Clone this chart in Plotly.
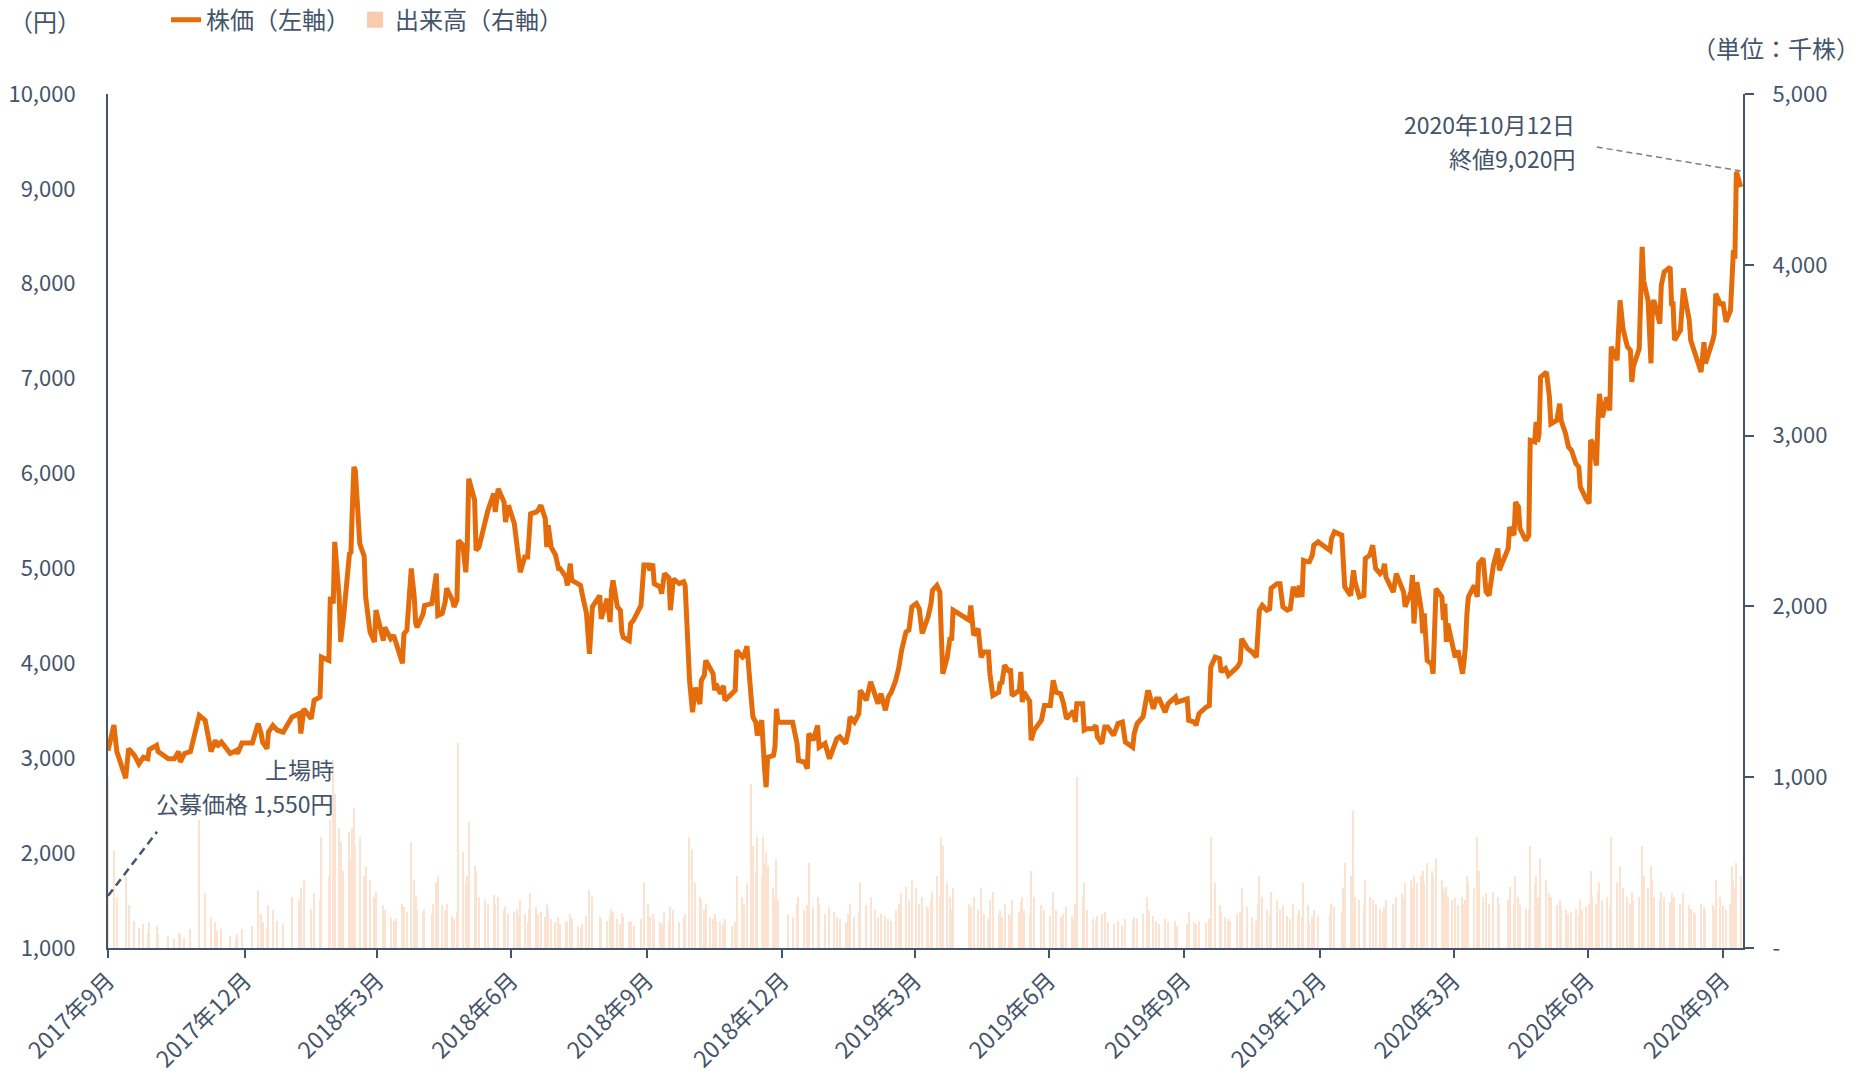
import plotly.graph_objects as go

# ---- 株価・出来高データ（上場日 2017-09-29 〜 2020-10-12） ----
dates = [
    "2017-09-29", "2017-10-03", "2017-10-05", "2017-10-11", "2017-10-13", "2017-10-17", "2017-10-20", "2017-10-23", "2017-10-26", "2017-10-27",
    "2017-11-01", "2017-11-02", "2017-11-09", "2017-11-13", "2017-11-16", "2017-11-17", "2017-11-20", "2017-11-24", "2017-11-30",
    "2017-12-04", "2017-12-08", "2017-12-11", "2017-12-12", "2017-12-15", "2017-12-21", "2017-12-25", "2017-12-26", "2017-12-29",
    "2018-01-05", "2018-01-09", "2018-01-11", "2018-01-12", "2018-01-15", "2018-01-16", "2018-01-19", "2018-01-22", "2018-01-26",
    "2018-02-01", "2018-02-06", "2018-02-07", "2018-02-09", "2018-02-14", "2018-02-16", "2018-02-20", "2018-02-21", "2018-02-26", "2018-02-27",
    "2018-03-01", "2018-03-02", "2018-03-05", "2018-03-06", "2018-03-08", "2018-03-12", "2018-03-13", "2018-03-14", "2018-03-15", "2018-03-16", "2018-03-19", "2018-03-22", "2018-03-23", "2018-03-26", "2018-03-29", "2018-03-30",
    "2018-04-04", "2018-04-05", "2018-04-09", "2018-04-11", "2018-04-13", "2018-04-17", "2018-04-18", "2018-04-20", "2018-04-23", "2018-04-25", "2018-04-26", "2018-04-27",
    "2018-05-01", "2018-05-02", "2018-05-07", "2018-05-08", "2018-05-10", "2018-05-11", "2018-05-14", "2018-05-16", "2018-05-17", "2018-05-21", "2018-05-22", "2018-05-24", "2018-05-25", "2018-05-28", "2018-05-30", "2018-05-31",
    "2018-06-01", "2018-06-05", "2018-06-06", "2018-06-08", "2018-06-12", "2018-06-14", "2018-06-18", "2018-06-19", "2018-06-21", "2018-06-25", "2018-06-26", "2018-06-28",
    "2018-07-02", "2018-07-04", "2018-07-05", "2018-07-06", "2018-07-09", "2018-07-11", "2018-07-12", "2018-07-13", "2018-07-17", "2018-07-18", "2018-07-20", "2018-07-23", "2018-07-24", "2018-07-25", "2018-07-27", "2018-07-30",
    "2018-08-01", "2018-08-02", "2018-08-06", "2018-08-07", "2018-08-09", "2018-08-10", "2018-08-14", "2018-08-16", "2018-08-17", "2018-08-20", "2018-08-22", "2018-08-24", "2018-08-29", "2018-08-30",
    "2018-09-03", "2018-09-05", "2018-09-06", "2018-09-07", "2018-09-10", "2018-09-12", "2018-09-13", "2018-09-14", "2018-09-18", "2018-09-19", "2018-09-21", "2018-09-26", "2018-09-28",
    "2018-10-01", "2018-10-02", "2018-10-04", "2018-10-05", "2018-10-09", "2018-10-10", "2018-10-12", "2018-10-15", "2018-10-16", "2018-10-18", "2018-10-22", "2018-10-25", "2018-10-26", "2018-10-29", "2018-10-31",
    "2018-11-02", "2018-11-05", "2018-11-06", "2018-11-08", "2018-11-09", "2018-11-12", "2018-11-14", "2018-11-15", "2018-11-16", "2018-11-19", "2018-11-21", "2018-11-22", "2018-11-27", "2018-11-29", "2018-11-30",
    "2018-12-04", "2018-12-05", "2018-12-07", "2018-12-10", "2018-12-11", "2018-12-13", "2018-12-14", "2018-12-17", "2018-12-18", "2018-12-19", "2018-12-20", "2018-12-21", "2018-12-25", "2018-12-26", "2018-12-27", "2018-12-28",
    "2019-01-04", "2019-01-07", "2019-01-10", "2019-01-11", "2019-01-15", "2019-01-17", "2019-01-18", "2019-01-21", "2019-01-24", "2019-01-25", "2019-01-29",
    "2019-02-01", "2019-02-04", "2019-02-06", "2019-02-08", "2019-02-12", "2019-02-14", "2019-02-15", "2019-02-18", "2019-02-21", "2019-02-22", "2019-02-26",
    "2019-03-01", "2019-03-04", "2019-03-06", "2019-03-08", "2019-03-11", "2019-03-13", "2019-03-15", "2019-03-18", "2019-03-20", "2019-03-22", "2019-03-25", "2019-03-27", "2019-03-29",
    "2019-04-01", "2019-04-03", "2019-04-05", "2019-04-08", "2019-04-09", "2019-04-11", "2019-04-12", "2019-04-15", "2019-04-17", "2019-04-18", "2019-04-19", "2019-04-22", "2019-04-24", "2019-04-25", "2019-04-26",
    "2019-05-07", "2019-05-08", "2019-05-10", "2019-05-13", "2019-05-15", "2019-05-17", "2019-05-20", "2019-05-21", "2019-05-23", "2019-05-27", "2019-05-28", "2019-05-29", "2019-05-31",
    "2019-06-03", "2019-06-04", "2019-06-05", "2019-06-10", "2019-06-11", "2019-06-12", "2019-06-13", "2019-06-17", "2019-06-18", "2019-06-20", "2019-06-25", "2019-06-27",
    "2019-07-01", "2019-07-03", "2019-07-05", "2019-07-08", "2019-07-10", "2019-07-12", "2019-07-16", "2019-07-17", "2019-07-18", "2019-07-19", "2019-07-23", "2019-07-24", "2019-07-26", "2019-07-30",
    "2019-08-01", "2019-08-02", "2019-08-05", "2019-08-07", "2019-08-09", "2019-08-13", "2019-08-16", "2019-08-19", "2019-08-21", "2019-08-26", "2019-08-27", "2019-08-29",
    "2019-09-02", "2019-09-05", "2019-09-06", "2019-09-09", "2019-09-11", "2019-09-13", "2019-09-17", "2019-09-19", "2019-09-24", "2019-09-25",
    "2019-10-02", "2019-10-03", "2019-10-07", "2019-10-08", "2019-10-10", "2019-10-15", "2019-10-17", "2019-10-18", "2019-10-21", "2019-10-24", "2019-10-25", "2019-10-28", "2019-10-30", "2019-10-31",
    "2019-11-05", "2019-11-07", "2019-11-08", "2019-11-12", "2019-11-15", "2019-11-18", "2019-11-19", "2019-11-20", "2019-11-22", "2019-11-25", "2019-11-27", "2019-11-28",
    "2019-12-02", "2019-12-04", "2019-12-06", "2019-12-09", "2019-12-11", "2019-12-13", "2019-12-16", "2019-12-17", "2019-12-19", "2019-12-20", "2019-12-23", "2019-12-24", "2019-12-26", "2019-12-27", "2019-12-30",
    "2020-01-07", "2020-01-08", "2020-01-10", "2020-01-15", "2020-01-16", "2020-01-17", "2020-01-21", "2020-01-23", "2020-01-24", "2020-01-27", "2020-01-30", "2020-01-31",
    "2020-02-03", "2020-02-05", "2020-02-07", "2020-02-10", "2020-02-12", "2020-02-13", "2020-02-14", "2020-02-19", "2020-02-21", "2020-02-25", "2020-02-26", "2020-02-27",
    "2020-03-02", "2020-03-03", "2020-03-04", "2020-03-06", "2020-03-09", "2020-03-10", "2020-03-11", "2020-03-13", "2020-03-16", "2020-03-17", "2020-03-19", "2020-03-23", "2020-03-24", "2020-03-25", "2020-03-26", "2020-03-27", "2020-03-30",
    "2020-04-01", "2020-04-03", "2020-04-06", "2020-04-07", "2020-04-08", "2020-04-09", "2020-04-10", "2020-04-14", "2020-04-16", "2020-04-17", "2020-04-20", "2020-04-22", "2020-04-24", "2020-04-27", "2020-04-30",
    "2020-05-01", "2020-05-07", "2020-05-08", "2020-05-11", "2020-05-12", "2020-05-14", "2020-05-15", "2020-05-19", "2020-05-21", "2020-05-22", "2020-05-25", "2020-05-26", "2020-05-27", "2020-05-28", "2020-05-29",
    "2020-06-02", "2020-06-04", "2020-06-05", "2020-06-09", "2020-06-11", "2020-06-12", "2020-06-15", "2020-06-17", "2020-06-19", "2020-06-22", "2020-06-24", "2020-06-25", "2020-06-26", "2020-06-29",
    "2020-07-01", "2020-07-02", "2020-07-03", "2020-07-06", "2020-07-07", "2020-07-08", "2020-07-10", "2020-07-13", "2020-07-15", "2020-07-16", "2020-07-20", "2020-07-22", "2020-07-24", "2020-07-27", "2020-07-29", "2020-07-30", "2020-07-31",
    "2020-08-04", "2020-08-06", "2020-08-07", "2020-08-10", "2020-08-12", "2020-08-13", "2020-08-14", "2020-08-18", "2020-08-19", "2020-08-21", "2020-08-25", "2020-08-26", "2020-08-27", "2020-08-28",
    "2020-09-01", "2020-09-03", "2020-09-07", "2020-09-08", "2020-09-10", "2020-09-11", "2020-09-15", "2020-09-17", "2020-09-18", "2020-09-23", "2020-09-24", "2020-09-25", "2020-09-28", "2020-09-30",
    "2020-10-02", "2020-10-05", "2020-10-06", "2020-10-07", "2020-10-08", "2020-10-09", "2020-10-12",
]

# 終値（円）
close = [
    3080, 3350, 3070, 2790, 3100, 3030, 2940, 3010, 2995, 3090,
    3135, 3070, 2995, 2995, 3070, 2960, 3050, 3070, 3450,
    3400, 3070, 3190, 3125, 3170, 3050, 3080, 3050, 3160,
    3160, 3365, 3260, 3170, 3100, 3275, 3345, 3295, 3275,
    3435, 3470, 3260, 3520, 3415, 3610, 3645, 4065, 4030, 4700,
    4630, 5280, 4700, 4225, 4490, 5155, 5170, 5650, 6070, 6035, 5260, 5130, 4700, 4330, 4225, 4560,
    4240, 4380, 4260, 4295, 4205, 4000, 4310, 4350, 5000, 4700, 4420, 4380,
    4520, 4610, 4630, 4735, 4945, 4505, 4525, 4645, 4790, 4665, 4595, 4665, 5295, 5245, 4960, 5225,
    5945, 5720, 5190, 5225, 5470, 5610, 5790, 5595, 5840, 5700, 5490, 5665,
    5470, 5225, 5155, 4960, 5120, 5120, 5330, 5575, 5595, 5610, 5665, 5525, 5225, 5455, 5225, 5140,
    5000, 5000, 4910, 4820, 5050, 4875, 4840, 4820, 4735, 4525, 4100, 4595, 4715, 4470,
    4680, 4435, 4770, 4875, 4595, 4560, 4330, 4275, 4240, 4420, 4455, 4610, 5035,
    5035, 4980, 5050, 4840, 4805, 4735, 4945, 4900, 4560, 4890, 4840, 4860, 4820, 3820, 3485,
    3745, 3570, 3820, 3875, 4030, 3945, 3890, 3715, 3785, 3680, 3765, 3610, 3680, 3715, 4135,
    4065, 4080, 4180, 3610, 3435, 3380, 3240, 3400, 2940, 2870, 2695, 3010, 3030, 3115, 3520, 3380,
    3380, 3380, 3155, 2975, 2960, 2890, 3260, 3190, 3345, 3115, 3155,
    2995, 3120, 3205, 3225, 3155, 3295, 3435, 3380, 3470, 3715, 3610,
    3805, 3645, 3575, 3680, 3505, 3645, 3695, 3820, 3945, 4135, 4330, 4350, 4595,
    4630, 4575, 4315, 4435, 4490, 4630, 4770, 4820, 4750, 4295, 3890, 4065, 4275, 4240, 4560,
    4455, 4610, 4295, 4365, 4065, 4120, 4120, 3890, 3660, 3695, 3805, 3780, 3980,
    3910, 3945, 3660, 3715, 3910, 3590, 3700, 3600, 3190, 3295, 3400, 3555,
    3555, 3820, 3695, 3680, 3575, 3415, 3485, 3480, 3380, 3575, 3575, 3295, 3310, 3310,
    3345, 3225, 3155, 3330, 3330, 3240, 3365, 3380, 3170, 3115, 3260, 3365,
    3435, 3695, 3695, 3520, 3625, 3625, 3485, 3575, 3645, 3590,
    3625, 3400, 3380, 3345, 3470, 3540, 3555, 3960, 4065, 4050, 3910, 3945, 3875, 3890,
    3960, 4015, 4260, 4155, 4120, 4065, 4275, 4560, 4610, 4560, 4575, 4790,
    4840, 4840, 4595, 4560, 4575, 4805, 4700, 4820, 4700, 5085, 5070, 5070, 5140, 5245, 5280,
    5190, 5315, 5385, 5350, 5105, 4805, 4715, 4980, 4855, 4700, 4715, 5105,
    5140, 5245, 5000, 4945, 4980, 5050, 4910, 4750, 4945, 4785, 4750, 4595,
    4750, 4930, 4420, 4855, 4560, 4315, 4525, 4030, 3995, 3890, 4785, 4700, 4455, 4630, 4225, 4420, 4225,
    4065, 4135, 3890, 4015, 4185, 4525, 4700, 4820, 4700, 5050, 5105, 4755, 4715, 5035, 5210,
    4980, 5210, 5435, 5350, 5700, 5650, 5420, 5295, 5350, 6350, 6335, 6545, 6335, 6420, 7015,
    7070, 6810, 6525, 6560, 6735, 6560, 6420, 6280, 6245, 6105, 6070, 5860, 5825, 5730,
    5685, 6350, 6335, 6085, 6560, 6840, 6595, 6805, 6665, 7335, 7195, 7825, 7525, 7335, 7300, 6965, 7125,
    7315, 8390, 8035, 7825, 7160, 7790, 7825, 7580, 7985, 8125, 8175, 7790, 7790, 7405,
    7510, 7950, 7615, 7405, 7315, 7280, 7070, 7385, 7160, 7405, 7475, 7895, 7790, 7790,
    7600, 7720, 8175, 8355, 8265, 9180, 9020,
]

# 出来高（千株）
volume = [
    1000, 570, 300, 420, 250, 160, 120, 140, 90, 150,
    130, 80, 70, 60, 90, 75, 60, 110, 750,
    320, 180, 150, 100, 120, 70, 60, 80, 110,
    130, 340, 200, 150, 120, 250, 220, 160, 140,
    300, 280, 350, 400, 230, 320, 280, 650, 420, 750,
    1100, 900, 700, 620, 450, 680, 520, 700, 820, 600, 650, 420, 480, 400, 300, 330,
    250, 220, 180, 160, 170, 260, 240, 210, 620, 400, 300, 220,
    210, 230, 200, 260, 380, 420, 250, 220, 260, 190, 170, 210, 1200, 560, 380, 420,
    740, 480, 450, 300, 280, 260, 310, 250, 300, 220, 240, 200,
    210, 230, 190, 280, 200, 150, 230, 320, 240, 200, 210, 180, 260, 220, 170, 150,
    180, 140, 160, 150, 200, 170, 130, 120, 140, 190, 340, 300, 180, 170,
    160, 190, 230, 210, 170, 140, 200, 180, 150, 160, 130, 170, 380,
    260, 180, 200, 170, 150, 140, 210, 160, 240, 220, 150, 180, 200, 650, 580,
    380, 300, 280, 220, 260, 180, 170, 200, 160, 150, 140, 170, 130, 150, 420,
    300, 250, 380, 960, 600, 450, 650, 420, 650, 500, 560, 480, 350, 300, 520, 280,
    200, 180, 260, 300, 220, 250, 500, 240, 300, 260, 200,
    240, 210, 180, 170, 150, 200, 260, 180, 210, 380, 250,
    300, 220, 180, 200, 190, 170, 160, 220, 260, 320, 360, 280, 400,
    350, 260, 300, 240, 230, 280, 330, 420, 300, 650, 600, 380, 300, 220, 350,
    260, 240, 300, 220, 350, 200, 170, 280, 330, 200, 220, 180, 260,
    200, 190, 280, 210, 270, 300, 220, 200, 450, 300, 250, 220,
    190, 330, 220, 180, 200, 240, 190, 170, 260, 1000, 300, 380, 220, 170,
    160, 190, 200, 210, 150, 140, 160, 130, 170, 160, 180, 170,
    200, 300, 220, 190, 160, 140, 170, 150, 160, 130,
    140, 210, 150, 140, 160, 150, 170, 650, 380, 250, 210, 180, 170, 160,
    200, 210, 350, 240, 180, 160, 260, 420, 300, 220, 200, 330,
    280, 230, 250, 190, 170, 260, 200, 220, 180, 380, 250, 150, 180, 220, 190,
    200, 260, 240, 210, 350, 500, 420, 800, 300, 280, 250, 400,
    300, 280, 260, 230, 210, 240, 280, 260, 300, 320, 290, 380,
    400, 350, 420, 380, 420, 450, 380, 500, 450, 430, 520, 400, 350, 330, 360, 300, 280,
    290, 250, 300, 260, 280, 420, 380, 350, 650, 450, 300, 320, 260, 330, 300,
    250, 280, 360, 260, 420, 300, 250, 230, 220, 600, 380, 420, 300, 280, 520,
    400, 320, 300, 250, 280, 240, 220, 200, 210, 230, 200, 280, 220, 240,
    260, 450, 300, 260, 330, 380, 280, 300, 240, 650, 380, 480, 350, 300, 260, 330, 280,
    300, 600, 420, 350, 480, 400, 300, 280, 330, 300, 270, 320, 250, 300,
    260, 320, 250, 230, 210, 200, 260, 240, 220, 250, 230, 400, 300, 250,
    220, 260, 480, 400, 350, 500, 420,
]

assert len(dates) == len(close) == len(volume)

ipo_price = 1550  # 公募価格（円）

# 軸の目盛
tick_dates = ["2017-09-29", "2017-12-31", "2018-03-31", "2018-06-30", "2018-09-30", "2018-12-31",
              "2019-03-31", "2019-06-30", "2019-09-30", "2019-12-31", "2020-03-31", "2020-06-30",
              "2020-09-30"]
tick_labels = ["2017年9月", "2017年12月", "2018年3月", "2018年6月", "2018年9月", "2018年12月",
               "2019年3月", "2019年6月", "2019年9月", "2019年12月", "2020年3月", "2020年6月",
               "2020年9月"]
price_ticks = [1000, 2000, 3000, 4000, 5000, 6000, 7000, 8000, 9000, 10000]
volume_ticks = [0, 1000, 2000, 3000, 4000, 5000]
volume_tick_text = ["-", "1,000", "2,000", "3,000", "4,000", "5,000"]

PRICE_COLOR = "#E46C0A"
VOLUME_COLOR = "#F8CBAD"
AXIS_COLOR = "#44546A"
TEXT_COLOR = "#44546A"
FONT = "Noto Sans CJK JP, Noto Sans, sans-serif"

fig = go.Figure()

# 株価（左軸）
fig.add_trace(go.Scatter(
    x=dates, y=close, name="株価（左軸）", mode="lines", yaxis="y2",
    line=dict(color=PRICE_COLOR, width=5),
))

# 出来高（右軸）
fig.add_trace(go.Bar(
    x=dates, y=volume, name="出来高（右軸）", yaxis="y", showlegend=False,
    marker=dict(color=VOLUME_COLOR, line=dict(width=0)),
    width=86400000 * 0.8, opacity=0.55,
))
# 凡例用の出来高マーカー
fig.add_trace(go.Scatter(
    x=[None], y=[None], name="出来高（右軸）", mode="markers", yaxis="y",
    marker=dict(symbol="square", size=17, color=VOLUME_COLOR),
))

fig.update_layout(
    width=1862, height=1077, autosize=False,
    margin=dict(l=108, r=119, t=94, b=129, pad=0, autoexpand=False),
    paper_bgcolor="white", plot_bgcolor="white",
    font=dict(family=FONT, size=22, color=TEXT_COLOR),
    bargap=0,
    legend=dict(
        orientation="h", x=0.0355, xanchor="left", y=1.0865, yanchor="middle",
        font=dict(size=24, color=TEXT_COLOR), bgcolor="rgba(0,0,0,0)",
        itemwidth=30, traceorder="normal",
    ),
    xaxis=dict(
        type="date", range=["2017-09-29", "2020-10-13 12:00"],
        tickvals=tick_dates, ticktext=tick_labels, tickangle=-45,
        ticks="outside", ticklen=8, tickwidth=2, tickcolor=AXIS_COLOR,
        showline=True, linecolor=AXIS_COLOR, linewidth=2, automargin=False,
        showgrid=False, zeroline=False, tickfont=dict(size=23, color=TEXT_COLOR),
    ),
    yaxis=dict(
        side="right", range=[0, 5000], tickvals=volume_ticks, ticktext=volume_tick_text,
        ticks="outside", ticklen=9, tickwidth=2, tickcolor=AXIS_COLOR, ticklabelstandoff=14,
        showline=True, linecolor=AXIS_COLOR, linewidth=2, automargin=False,
        showgrid=False, zeroline=False, tickfont=dict(size=22, color=TEXT_COLOR),
    ),
    yaxis2=dict(
        side="left", overlaying="y", range=[1000, 10000], tickvals=price_ticks,
        tickformat=",d", ticks="", ticklabelstandoff=26, automargin=False,
        showline=True, linecolor=AXIS_COLOR, linewidth=2,
        showgrid=False, zeroline=False, tickfont=dict(size=22, color=TEXT_COLOR),
    ),
)

# 単位表記
fig.add_annotation(text="（円）", xref="paper", yref="paper", x=-0.062, y=1.0865,
                   xanchor="left", yanchor="middle", showarrow=False,
                   font=dict(size=24, color=TEXT_COLOR))
fig.add_annotation(text="（単位：千株）", xref="paper", yref="paper", x=1.0725, y=1.054,
                   xanchor="right", yanchor="middle", showarrow=False,
                   font=dict(size=24, color=TEXT_COLOR))


def two_line_note(lines, x_paper, y_center_px, gap_px=34, size=23):
    """右揃えの2行注記を1行ずつ配置する（y は描画領域下端からの px）"""
    plot_h = 1077 - 94 - 129
    for i, line in enumerate(lines):
        y_px = y_center_px + (0.5 - i) * gap_px
        fig.add_annotation(text=line, xref="paper", yref="paper",
                           x=x_paper, y=y_px / plot_h, xanchor="right", yanchor="middle",
                           showarrow=False, font=dict(size=size, color=TEXT_COLOR))


# 上場時の公募価格
two_line_note(["上場時", f"公募価格 {ipo_price:,}円"], 0.1394, 162.5)
fig.add_shape(type="line", xref="x", yref="y2", xsizemode="pixel", ysizemode="pixel",
              xanchor=dates[0], yanchor=ipo_price, x0=0, y0=0, x1=49, y1=64,
              line=dict(color=AXIS_COLOR, width=2.5, dash="8px,5px"))

# 直近終値
two_line_note(["2020年10月12日", f"終値{close[-1]:,}円"], 0.8982, 807)
fig.add_shape(type="line", xref="x", yref="y2", xsizemode="pixel", ysizemode="pixel",
              xanchor=dates[-1], yanchor=close[-1], x0=0, y0=16, x1=-144, y1=40,
              line=dict(color="#7F7F7F", width=1.5, dash="6px,4px"))

fig.write_html("out.html")
